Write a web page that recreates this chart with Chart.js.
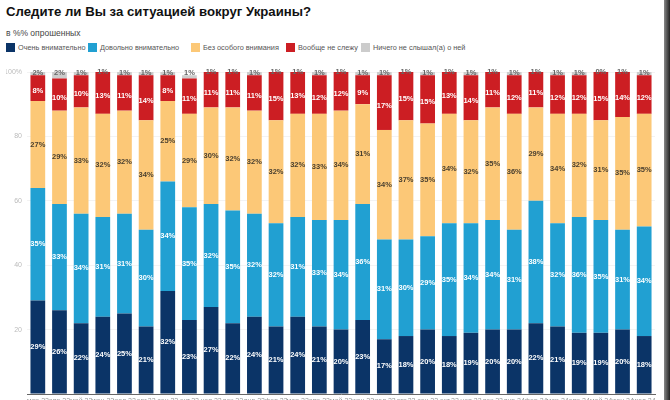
<!DOCTYPE html>
<html><head><meta charset="utf-8">
<script src="https://cdn.jsdelivr.net/npm/chart.js@4"></script>
<style>
html,body{margin:0;padding:0;background:#fff;overflow:hidden;width:670px;height:400px;font-family:"Liberation Sans",Arial,sans-serif;}
#title{position:absolute;left:6px;top:4px;font-size:13.2px;font-weight:bold;color:#111;white-space:nowrap;}
#sub{position:absolute;left:6px;top:28px;font-size:8.5px;color:#444;}
#legend{position:absolute;left:0;top:43px;width:670px;height:12px;font-size:7.3px;color:#555;white-space:nowrap;}
#legend span.i{position:absolute;top:0;display:inline-flex;align-items:center;}
#legend span.b{display:inline-block;width:9px;height:9px;margin-right:3px;}
#wrap{position:absolute;left:0;top:0;width:670px;height:420px;}
#edge{position:absolute;right:0;top:0;width:6px;height:400px;background:linear-gradient(to right,#888,#222);}
</style></head>
<body>
<div id="title">Следите ли Вы за ситуацией вокруг Украины?</div>
<div id="sub">в %% опрошенных</div>
<div id="legend"></div>
<div id="wrap"><canvas id="c" width="670" height="420"></canvas></div>
<div id="edge"></div>
<script>
const categories = ["мар.22","апр.22","май.22","июн.22","июл.22","авг.22","сен.22","окт.22","ноя.22","дек.22",
 "янв.23","фев.23","мар.23","апр.23","май.23","июн.23","июл.23","авг.23","сен.23","окт.23","ноя.23","дек.23",
 "янв.24","фев.24","мар.24","апр.24","май.24","июн.24","июл.24"];
const veryAttentive   = [29,26,22,24,25,21,32,23,27,22,24,21,24,21,20,23,17,18,20,18,19,20,20,22,21,19,19,20,18];
const fairlyAttentive = [35,33,34,31,31,30,34,35,32,35,32,32,31,33,34,36,31,30,29,35,34,34,31,38,32,36,35,31,34];
const noSpecial       = [27,29,33,32,32,34,25,29,30,32,32,32,32,33,34,31,34,37,35,34,32,35,36,29,34,32,31,35,35];
const notFollowing    = [8,10,10,13,11,14,8,11,11,11,11,15,13,12,12,9,17,15,15,13,14,11,12,11,12,12,15,14,12];
const neverHeard      = [2,2,1,1,1,1,1,1,1,1,1,1,1,1,1,1,1,1,1,1,1,1,1,1,1,1,0,1,1];
const yTicks = [0,20,40,60,80,100];

const seriesNames = ["Очень внимательно","Довольно внимательно","Без особого внимания","Вообще не слежу","Ничего не слышал(а) о ней"];
const colors = ["#0b3467","#21a0d2","#fcc877","#cc1e23","#cccccc"];
const labelColors = ["#ffffff","#ffffff","#4a4030","#ffffff","#666666"];
const seriesData = [veryAttentive, fairlyAttentive, noSpecial, notFollowing, neverHeard];
const legendX = [6,88,191,286,361];

const lg = document.getElementById('legend');
seriesNames.forEach((n,i)=>{
  const s=document.createElement('span'); s.className='i';
  s.style.left = legendX[i]+'px';
  s.innerHTML='<span class="b" style="background:'+colors[i]+'"></span>'+n;
  lg.appendChild(s);
});

const labelPlugin = {
  id:'segLabels',
  afterDatasetsDraw(chart){
    const ctx = chart.ctx, area = chart.chartArea;
    ctx.save();
    ctx.font = 'bold 7.5px "Liberation Sans", Arial, sans-serif';
    ctx.textAlign = 'center';
    ctx.textBaseline = 'middle';
    chart.data.datasets.forEach((ds,i)=>{
      const meta = chart.getDatasetMeta(i);
      meta.data.forEach((bar,j)=>{
        const v = ds.data[j];
        const top = Math.max(bar.y, area.top);
        const base = Math.max(bar.base, area.top);
        let y = (top+base)/2;
        if (i===3) y += 3;
        if (i===4) y = Math.min(y, area.top+1) ;
        ctx.fillStyle = labelColors[i];
        ctx.fillText(v+'%', bar.x, y);
      });
    });
    ctx.restore();
  }
};

new Chart(document.getElementById('c'), {
  type:'bar',
  data:{
    labels:categories,
    datasets: seriesData.map((d,i)=>({
      label:seriesNames[i], data:d, backgroundColor:colors[i], borderWidth:0,
      barPercentage:0.68, categoryPercentage:1, clip:0
    }))
  },
  options:{
    responsive:false, animation:false,
    layout:{padding:{left:6,right:15,top:72,bottom:8}},
    plugins:{legend:{display:false}, tooltip:{enabled:false}},
    scales:{
      x:{stacked:true,
        grid:{display:false, drawTicks:false},
        border:{display:true,color:'#666',width:1},
        ticks:{font:{size:7,family:'"Liberation Sans", Arial'},color:'#999',maxRotation:0,autoSkip:false,padding:3},
        afterFit(s){ s.height = 18; }
      },
      y:{stacked:true,min:0,max:100,
        afterBuildTicks(s){ s.ticks = yTicks.map(v=>({value:v})); },
        grid:{color:'#f3f3f3', drawTicks:false},
        border:{display:false},
        ticks:{font:{size:7,family:'"Liberation Sans", Arial'},color:'#bbb',padding:5,
          callback:(v)=> v===0 ? '' : (v===100 ? v+'%' : v)},
        afterFit(s){ s.width = 21; }
      }
    }
  },
  plugins:[labelPlugin]
});
</script>
</body></html>
